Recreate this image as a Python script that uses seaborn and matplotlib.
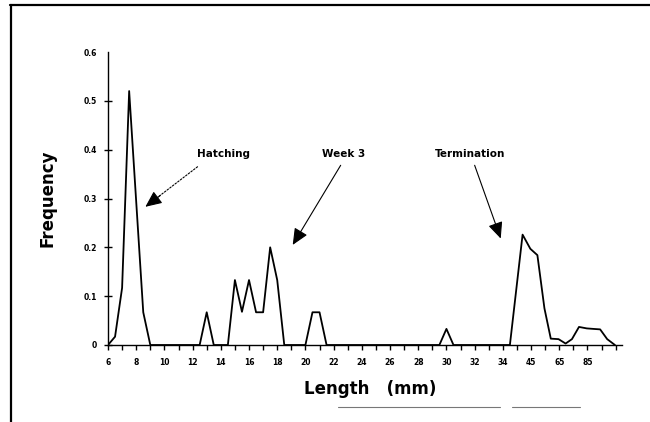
import matplotlib
matplotlib.use("Agg")
import matplotlib.pyplot as plt
from matplotlib.lines import Line2D
import seaborn as sns
import pandas as pd

# Data (x = position on the length axis, y = frequency)
length_pos = [6, 6.5, 7, 7.5, 8.5, 9, 12.5, 13, 13.5, 14.5, 15, 15.5, 16, 16.5,
              17, 17.5, 18, 18.5, 20, 20.5, 21, 21.5, 29.5, 30, 30.5, 34.5,
              35.4, 35.95, 36.45, 36.95, 37.4, 37.95, 38.45, 38.9, 39.4, 39.95,
              40.4, 40.9, 41.4, 41.95]
frequency = [0, 0.017, 0.117, 0.52, 0.067, 0, 0, 0.067, 0, 0, 0.133, 0.068, 0.133, 0.067,
             0.067, 0.2, 0.133, 0, 0, 0.067, 0.067, 0, 0, 0.033, 0, 0,
             0.226, 0.197, 0.184, 0.075, 0.013, 0.012, 0.003, 0.012, 0.037, 0.034,
             0.033, 0.032, 0.012, 0]

x_tick_pos = list(range(6, 43))
x_tick_labels = ['6', '', '8', '', '10', '', '12', '', '14', '', '16', '', '18', '', '20', '',
                 '22', '', '24', '', '26', '', '28', '', '30', '', '32', '', '34', '',
                 '45', '', '65', '', '85', '', '']
y_tick_pos = [0, 0.1, 0.2, 0.3, 0.4, 0.5, 0.6]
y_tick_labels = ['0', '0.1', '0.2', '0.3', '0.4', '0.5', '0.6']

annotations = ['Hatching', 'Week 3', 'Termination']

df = pd.DataFrame({'Length': length_pos, 'Frequency': frequency})

sns.set_style('ticks')
plt.rcParams['font.family'] = ['DejaVu Sans']
for k in ['text.color', 'axes.labelcolor', 'xtick.color', 'ytick.color', 'axes.edgecolor']:
    plt.rcParams[k] = 'black'

fig = plt.figure(figsize=(6.5, 4.22), dpi=100)
ax = fig.add_axes([108 / 650, 1 - 345 / 422, (622 - 108) / 650, (345 - 52) / 422])

sns.lineplot(data=df, x='Length', y='Frequency', ax=ax, color='black',
             linewidth=1.3, sort=False, estimator=None, zorder=5)

ax.set_xlim(6, 42.45)
ax.set_ylim(0, 0.6)
ax.set_xticks(x_tick_pos)
ax.set_xticklabels(x_tick_labels, fontsize=5.5, fontweight='bold')
ax.set_yticks(y_tick_pos)
ax.set_yticklabels(y_tick_labels, fontsize=5.5, fontweight='bold')
ax.tick_params(axis='x', direction='out', length=3.5, width=1.0, pad=6, colors='black')
ax.tick_params(axis='y', direction='inout', length=6, width=1.0, pad=5, colors='black')
ax.yaxis.get_major_ticks()[-1].tick1line.set_visible(False)

for s in ['top', 'right']:
    ax.spines[s].set_visible(False)
for s in ['left', 'bottom']:
    ax.spines[s].set_linewidth(1.0)
    ax.spines[s].set_color('black')

ax.set_xlabel('Length   (mm)', fontsize=12, fontweight='bold', color='black')
ax.set_ylabel('Frequency', fontsize=12, fontweight='bold', color='black')
ax.xaxis.set_label_coords(0.51, -0.12)
ax.yaxis.set_label_coords(-0.1, 0.5)

# annotations
txt_kw = dict(fontsize=7.5, fontweight='bold', va='center', ha='left', color='black')
ax.text(12.3, 0.392, annotations[0], **txt_kw)
ax.text(21.2, 0.392, annotations[1], **txt_kw)
ax.text(29.2, 0.392, annotations[2], **txt_kw)

head = dict(arrowstyle='-|>,head_length=1.0,head_width=0.45', color='black',
            lw=0.8, mutation_scale=10, shrinkA=0, shrinkB=0)
# Hatching: dotted line + solid head
ax.annotate('', xy=(9.5, 0.302), xytext=(12.35, 0.365),
            arrowprops=dict(arrowstyle='-', color='black', lw=0.8, ls=(0, (1.5, 1.5)),
                            shrinkA=0, shrinkB=0))
ax.annotate('', xy=(8.65, 0.283), xytext=(9.7, 0.306), arrowprops=head)
# Week 3
ax.annotate('', xy=(19.1, 0.205), xytext=(22.5, 0.368), arrowprops=head)
# Termination
ax.annotate('', xy=(33.85, 0.218), xytext=(32.0, 0.368), arrowprops=head)

# outer frame lines (figure coordinates)
fig.add_artist(Line2D([11 / 650, 11 / 650], [0, 1 - 5 / 422], transform=fig.transFigure,
                      color='black', lw=1.6))
fig.add_artist(Line2D([10 / 650, 1], [1 - 5 / 422, 1 - 5 / 422], transform=fig.transFigure,
                      color='black', lw=1.6))
fig.add_artist(Line2D([338 / 650, 500 / 650], [1 - 407 / 422] * 2, transform=fig.transFigure,
                      color='#777777', lw=0.8))
fig.add_artist(Line2D([512 / 650, 580 / 650], [1 - 407 / 422] * 2, transform=fig.transFigure,
                      color='#777777', lw=0.8))

fig.savefig('out.png', dpi=100)
